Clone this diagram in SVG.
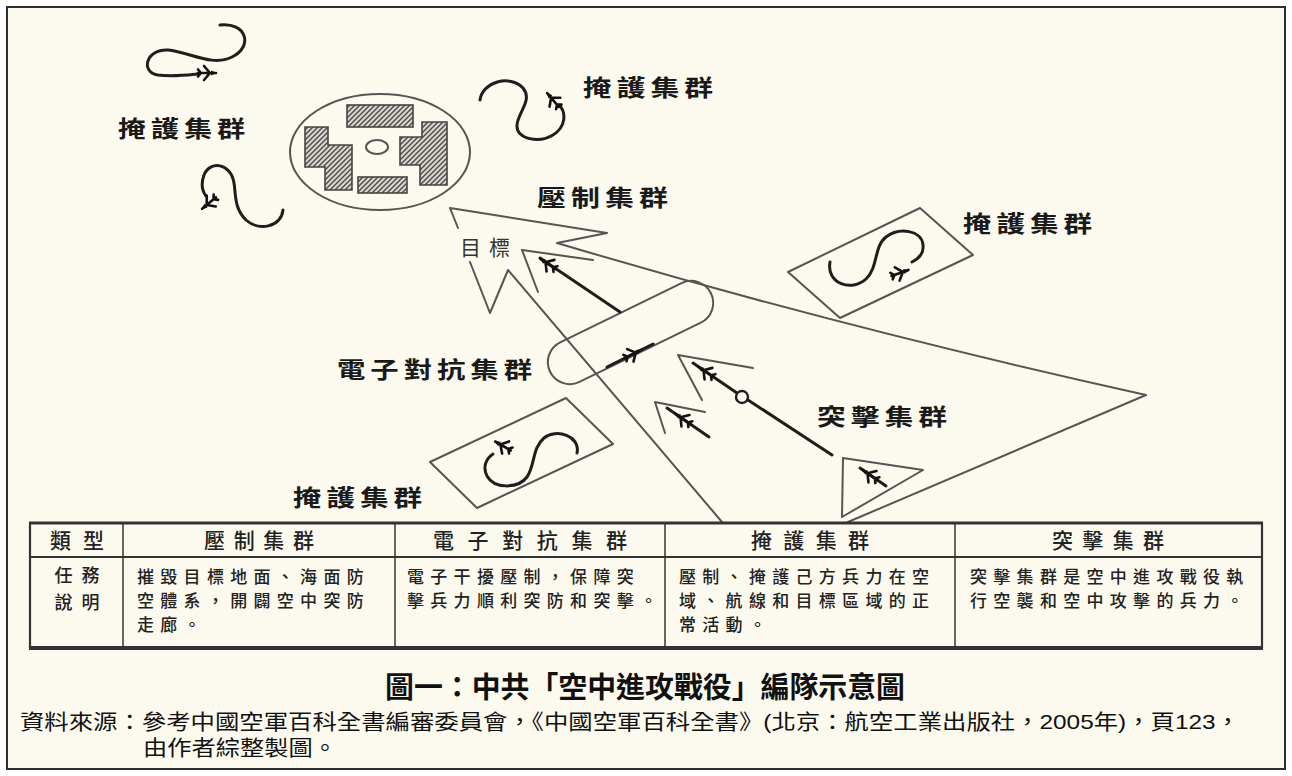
<svg xmlns="http://www.w3.org/2000/svg" width="1292" height="776" viewBox="0 0 1292 776">
  <style>
    .thin { fill: none; stroke: #555; stroke-width: 2; stroke-linejoin: round; stroke-linecap: round; }
    .loop { fill: none; stroke: #1e1e1e; stroke-width: 3; stroke-linecap: round; }
    .track { fill: none; stroke: #1e1e1e; stroke-width: 3; stroke-linecap: round; }
    .label { font-family: "Noto Sans CJK TC", "Noto Sans CJK SC", sans-serif; font-weight: bold; font-size: 23px; letter-spacing: 4px; fill: #1a1a1a; }
    .small { font-family: "Noto Sans CJK TC", sans-serif; font-size: 21px; fill: #333; }
    .th { font-family: "Noto Sans CJK TC", sans-serif; font-size: 21px; font-weight: 500; fill: #222; text-anchor: middle; }
    .side { font-family: "Noto Sans CJK TC", sans-serif; font-size: 18px; font-weight: 500; fill: #222; text-anchor: middle; }
    .td { font-family: "Noto Sans CJK TC", sans-serif; font-size: 17px; font-weight: 500; fill: #222; letter-spacing: 6.3px; }
    .hatched { fill: url(#hatch); stroke: #444; stroke-width: 1.6; }
    .rule { stroke: #333; fill: none; }
    .title { font-family: "Liberation Serif", "Noto Sans CJK TC", serif; font-weight: bold; font-size: 29px; fill: #111; }
    .source { font-family: "Liberation Sans", "Noto Sans CJK TC", sans-serif; font-size: 21px; fill: #111; }
  </style>
  <defs>
    <pattern id="hatch" patternUnits="userSpaceOnUse" width="5" height="5">
      <rect width="5" height="5" fill="#d9d7cd"/>
      <path d="M-1,1 L1,-1 M0,5 L5,0 M4,6 L6,4" stroke="#4a4a4a" stroke-width="1.4"/>
    </pattern>
    <!-- aircraft symbol, nose along +x -->
    <g id="plane">
      <path d="M-9,0 H9 M3,0 L-3,-7 M3,0 L-3,7 M-6,0 L-9,-3.5 M-6,0 L-9,3.5" fill="none" stroke="#111" stroke-width="2.6" stroke-linecap="round"/>
      <path d="M10,0 L4,-2.5 L4,2.5 Z" fill="#111"/>
    </g>
  </defs>

  <!-- page and frame -->
  <rect width="1292" height="776" fill="#ffffff"/>
  <rect x="7" y="7" width="1278" height="762" fill="#fcfaee" stroke="#2e2e2e" stroke-width="2"/>

  <!-- target area -->
  <g id="target">
    <ellipse cx="380" cy="152" rx="90" ry="58" class="thin"/>
    <rect x="347" y="105" width="66" height="22" class="hatched"/>
    <rect x="358" y="177" width="49" height="16" class="hatched"/>
    <polygon points="305,127 328,127 328,145 352,145 352,190 325,190 325,167 305,167" class="hatched"/>
    <polygon points="422,122 447,122 447,185 420,185 420,165 400,165 400,137 422,137" class="hatched"/>
    <ellipse cx="377" cy="147" rx="11" ry="7" class="thin"/>
    <rect x="459" y="236" width="52" height="22" fill="#fcfaee"/>
    <text x="460" y="255" class="small" textLength="50">目標</text>
  </g>

  <!-- escort groups -->
  <g id="escort-west">
    <path class="loop" d="M220,25 C246,22 254,46 232,57 C212,67 190,52 168,50 C146,49 140,72 158,75 C172,77 188,75 198,74"/>
    <use href="#plane" transform="translate(207,73)"/>
    <text x="118" y="137" class="label" textLength="132" lengthAdjust="spacingAndGlyphs">掩護集群</text>
    <path class="loop" d="M283,210 C281,228 258,231 246,220 C234,208 236,195 234,183 C231,163 210,160 204,175 C200,186 203,192 206,196"/>
    <use href="#plane" transform="translate(209,203) rotate(140)"/>
  </g>

  <g id="escort-north">
    <path class="loop" d="M480,100 C482,82 510,74 523,88 C533,100 518,112 517,125 C516,140 540,143 553,135 C566,127 566,113 560,106"/>
    <use href="#plane" transform="translate(553,100) rotate(-130)"/>
    <text x="583" y="96" class="label" textLength="135" lengthAdjust="spacingAndGlyphs">掩護集群</text>
  </g>

  <g id="escort-east">
    <polygon class="thin" points="920,208 973,255 840,318 788,272"/>
    <path class="loop" d="M830,262 C826,284 852,292 866,279 C878,268 874,246 886,237 C899,227 922,230 923,245 C924,254 918,259 912,262"/>
    <use href="#plane" transform="translate(900,273) rotate(-20)"/>
    <text x="963" y="232" class="label" textLength="134" lengthAdjust="spacingAndGlyphs">掩護集群</text>
  </g>

  <g id="escort-south">
    <polygon class="thin" points="566,398 613,444 477,508 430,462"/>
    <path class="loop" d="M577,453 C581,436 556,428 544,438 C532,448 535,466 527,477 C518,489 494,489 487,476 C482,466 487,458 493,454"/>
    <use href="#plane" transform="translate(503,446) rotate(-150)"/>
    <text x="293" y="506" class="label" textLength="134" lengthAdjust="spacingAndGlyphs">掩護集群</text>
  </g>

  <!-- suppression group -->
  <g id="suppression">
    <polyline class="thin" points="522,250 593,260"/>
    <polyline class="thin" points="522,250 538,292"/>
    <text x="537" y="206" class="label" textLength="136" lengthAdjust="spacingAndGlyphs">壓制集群</text>
  </g>

  <!-- electronic countermeasures group -->
  <g id="ecm">
    <rect x="-89.5" y="-22" width="179" height="44" rx="22" class="thin" transform="translate(630.5,332.5) rotate(-26)"/>
    <text x="337" y="378" class="label" textLength="200" lengthAdjust="spacingAndGlyphs">電子對抗集群</text>
  </g>

  <!-- strike group -->
  <g id="strike">
    <polyline class="thin" points="753,368 678,355 702,400"/>
    <polyline class="thin" points="705,412 655,402 665,433"/>
    <polygon class="thin" points="843,458 923,470 842,517"/>
    <text x="817" y="425" class="label" textLength="135" lengthAdjust="spacingAndGlyphs">突擊集群</text>
  </g>

  <!-- formation outline and flight tracks -->
  <g id="connectors">
    <path class="thin" d="M458,228 L450,208 L607,233 L557,243 Q839,327 1146,395 L848,522"/>
    <path class="thin" d="M470,262 L490,313 L508,270 L722,522"/>
    <line class="track" x1="620" y1="312" x2="540" y2="258"/>
    <use href="#plane" transform="translate(548,264) rotate(-146)"/>
    <line class="track" x1="607" y1="367" x2="653" y2="344"/>
    <use href="#plane" transform="translate(633,354) rotate(-27)"/>
    <line class="track" x1="832" y1="455" x2="748" y2="400"/>
    <line class="track" x1="737" y1="393" x2="693" y2="363"/>
    <circle cx="742" cy="397" r="6" fill="#fcfaee" stroke="#1e1e1e" stroke-width="2.4"/>
    <use href="#plane" transform="translate(706,372) rotate(-146)"/>
    <line class="track" x1="709" y1="437" x2="667" y2="408"/>
    <use href="#plane" transform="translate(683,419) rotate(-145)"/>
    <line class="track" x1="886" y1="486" x2="860" y2="468"/>
    <use href="#plane" transform="translate(870,475) rotate(-145)"/>
  </g>

  <!-- task table -->
  <g id="table">
    <rect x="30" y="523" width="1232" height="125" fill="none" stroke="#333" stroke-width="1.5"/>
    <line class="rule" x1="29" y1="523" x2="1263" y2="523" stroke-width="3"/>
    <line class="rule" x1="30" y1="557" x2="1262" y2="557" stroke-width="2.2"/>
    <line class="rule" x1="29" y1="648" x2="1263" y2="648" stroke-width="4"/>
    <line class="rule" x1="30" y1="523" x2="30" y2="648" stroke-width="2.2"/>
    <line class="rule" x1="123" y1="523" x2="123" y2="648" stroke-width="1.5"/>
    <line class="rule" x1="395" y1="523" x2="395" y2="648" stroke-width="1.5"/>
    <line class="rule" x1="665" y1="523" x2="665" y2="648" stroke-width="1.5"/>
    <line class="rule" x1="955" y1="523" x2="955" y2="648" stroke-width="1.5"/>
    <line class="rule" x1="1262" y1="523" x2="1262" y2="648" stroke-width="2.2"/>

    <text x="77" y="548" class="th" textLength="54">類型</text>
    <text x="259" y="548" class="th" textLength="110">壓制集群</text>
    <text x="530" y="548" class="th" textLength="194">電子對抗集群</text>
    <text x="810" y="548" class="th" textLength="118">掩護集群</text>
    <text x="1108" y="548" class="th" textLength="112">突擊集群</text>

    <text x="77" y="582" class="side" textLength="45">任務</text>
    <text x="77" y="609" class="side" textLength="45">說明</text>

    <text class="td" x="137" y="583">摧毀目標地面、海面防</text>
    <text class="td" x="137" y="607">空體系，開闢空中突防</text>
    <text class="td" x="137" y="631">走廊。</text>

    <text class="td" x="407" y="583">電子干擾壓制，保障突</text>
    <text class="td" x="407" y="607">擊兵力順利突防和突擊。</text>

    <text class="td" x="679" y="583">壓制、掩護己方兵力在空</text>
    <text class="td" x="679" y="607">域、航線和目標區域的正</text>
    <text class="td" x="679" y="631">常活動。</text>

    <text class="td" x="970" y="583">突擊集群是空中進攻戰役執</text>
    <text class="td" x="970" y="607">行空襲和空中攻擊的兵力。</text>
  </g>

  <!-- caption -->
  <text x="385" y="698" class="title" textLength="520" lengthAdjust="spacingAndGlyphs">圖一：中共「空中進攻戰役」編隊示意圖</text>
  <text x="20" y="729" class="source" textLength="1220" lengthAdjust="spacingAndGlyphs">資料來源：參考中國空軍百科全書編審委員會，《中國空軍百科全書》(北京：航空工業出版社，2005年)，頁123，</text>
  <text x="143" y="755" class="source" textLength="194" lengthAdjust="spacingAndGlyphs">由作者綜整製圖。</text>
</svg>
